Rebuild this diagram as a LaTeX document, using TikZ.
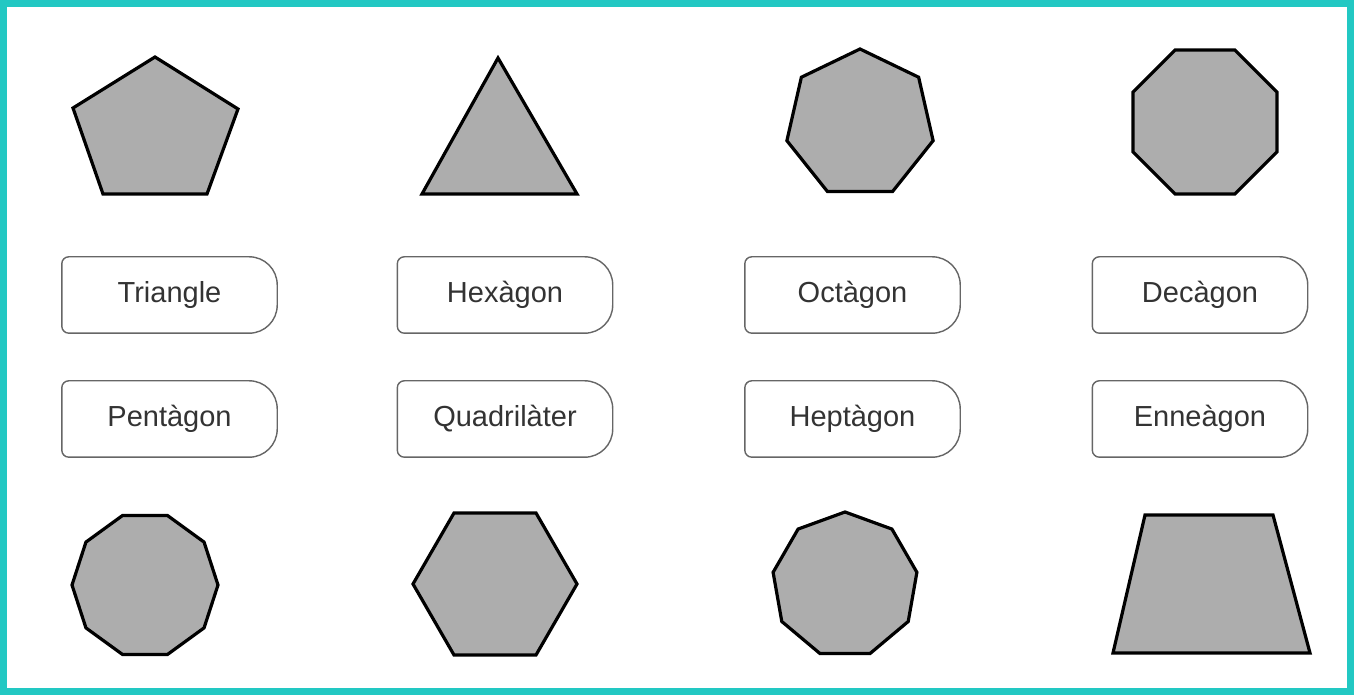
\documentclass[tikz,border=0pt]{standalone}
\usepackage{fontspec}
\setmainfont{Liberation Sans}
\definecolor{frame}{HTML}{22C8C3}
\definecolor{shapefill}{HTML}{ADADAD}
\definecolor{boxline}{HTML}{666666}
\definecolor{txt}{HTML}{333333}
\tikzset{
  poly/.style={draw=black, fill=shapefill, line width=3.2pt, line join=miter},
  lbl/.style={minimum width=215pt, minimum height=76pt, inner sep=0pt, text=txt,
    font=\fontsize{29}{34}\selectfont},
  boxstroke/.style={draw=boxline, line width=1.4pt}
}
\begin{document}
\begin{tikzpicture}[x=1pt,y=1pt]
\useasboundingbox (0,0) rectangle (1354,695);
\fill[white] (0,0) rectangle (1354,695);
\draw[frame, line width=7pt] (3.5,3.5) rectangle (1350.5,691.5);

% top row shapes
\draw[poly] (155,638) -- (238,586) -- (207,501) -- (103,501) -- (73,587) -- cycle;
\draw[poly] (498,637) -- (577,501) -- (422,501) -- cycle;
\draw[poly, shift={(860,571)}] (90:75) -- (141.43:75) -- (192.86:75) -- (244.29:75) -- (295.71:75) -- (347.14:75) -- (38.57:75) -- cycle;
\draw[poly, shift={(1205,573)}] (22.5:78) -- (67.5:78) -- (112.5:78) -- (157.5:78) -- (202.5:78) -- (247.5:78) -- (292.5:78) -- (337.5:78) -- cycle;

% bottom row shapes
\draw[poly, shift={(145,110)}] (0:73) -- (36:73) -- (72:73) -- (108:73) -- (144:73) -- (180:73) -- (216:73) -- (252:73) -- (288:73) -- (324:73) -- cycle;
\draw[poly, shift={(495,111)}] (0:82) -- (60:82) -- (120:82) -- (180:82) -- (240:82) -- (300:82) -- cycle;
\draw[poly, shift={(845,110)}] (90:73) -- (130:73) -- (170:73) -- (210:73) -- (250:73) -- (290:73) -- (330:73) -- (10:73) -- (50:73) -- cycle;
\draw[poly] (1145,180) -- (1273,180) -- (1310,42) -- (1113,42) -- cycle;

% labels
\node[lbl] (tri) at (169.5,400) {Triangle};
\node[lbl] (hex) at (505,400) {Hexàgon};
\node[lbl] (oct) at (852.5,400) {Octàgon};
\node[lbl] (dec) at (1200,400) {Decàgon};
\node[lbl] (pen) at (169.5,276) {Pentàgon};
\node[lbl] (qua) at (505,276) {Quadrilàter};
\node[lbl] (hep) at (852.5,276) {Heptàgon};
\node[lbl] (enn) at (1200,276) {Enneàgon};

\foreach \n in {tri,hex,oct,dec,pen,qua,hep,enn}{
  \draw[boxstroke] ([xshift=7pt]\n.north west) -- ([xshift=-28pt]\n.north east)
    arc[start angle=90, end angle=0, radius=28pt] -- ([yshift=28pt]\n.south east)
    arc[start angle=0, end angle=-90, radius=28pt] -- ([xshift=7pt]\n.south west)
    arc[start angle=270, end angle=180, radius=7pt] -- ([yshift=-7pt]\n.north west)
    arc[start angle=180, end angle=90, radius=7pt] -- cycle;
}
\end{tikzpicture}
\end{document}
